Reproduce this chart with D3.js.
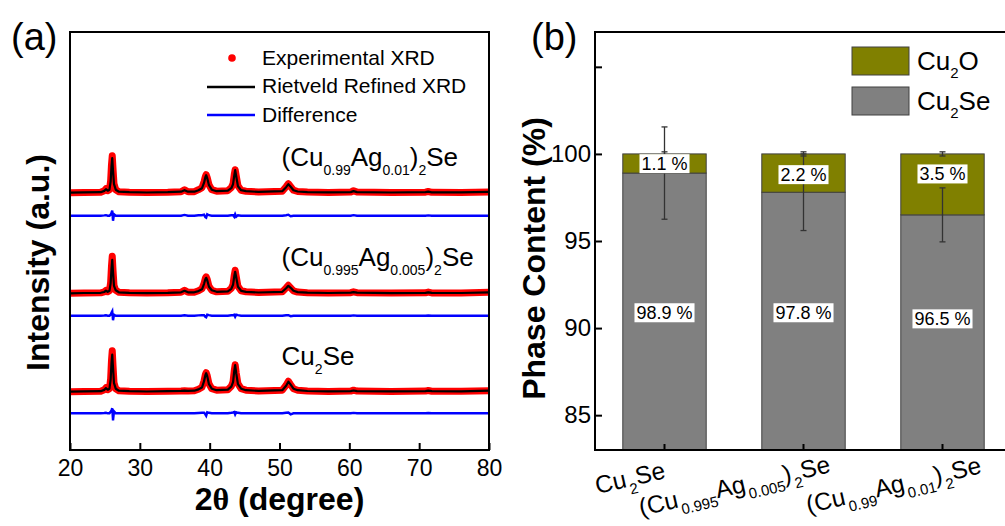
<!DOCTYPE html>
<html>
<head>
<meta charset="utf-8">
<script src="https://cdn.jsdelivr.net/npm/d3@7"></script>
<style>
  html, body { margin: 0; padding: 0; background: #fff; }
  svg { display: block; font-family: Arial, "Liberation Sans", sans-serif; }
</style>
</head>
<body>
<div id="chart"></div>
<script>
// ---------- panel (a): XRD patterns, intensity (a.u.) ----------
const twoTheta = [20, 22, 24.4, 24.9, 25.15, 25.4, 25.65, 25.82, 25.94, 26.05, 26.16, 26.3, 26.55, 27, 28.5, 31, 34,
  35.9, 36.4, 36.9, 37.8, 38.4, 38.9, 39.2, 39.38, 39.5, 39.65, 39.9, 40.3, 41, 42.6, 43.1, 43.35, 43.52, 43.65,
  43.8, 44.05, 44.5, 45.2, 47, 50.4, 50.95, 51.27, 51.6, 52.0, 52.6, 54, 57, 60.2, 60.6, 61.1, 66, 70.9, 71.3,
  71.8, 76, 80];

// sample names, bottom to top
const samples = ['Cu_{2}Se', '(Cu_{0.995}Ag_{0.005})_{2}Se', '(Cu_{0.99}Ag_{0.01})_{2}Se'];

const obsCu2Se = [0, 0.3, 0.5, 2, 4, 2, 3, 13, 31, 41, 26, 9, 3, 1, 0.5, 0.2, 0.5, 0.8, 1, 0.8, 1, 2.5, 4.5, 11, 17,
  19, 16, 8, 3, 1.5, 2, 5.5, 10, 21, 27, 19, 8, 3, 1.5, 0.8, 1.5, 6.5, 10.5, 7, 3, 1.5, 0.7, 0.3, 0.6, 1.5, 0.6,
  0.3, 0.6, 1.2, 0.5, 0.4, 1];
const fitCu2Se = [0, 0.3, 0.5, 1.8, 3.6, 2, 3, 12, 28, 37, 24, 8.5, 3, 1, 0.5, 0.2, 0.5, 0.8, 1, 0.8, 1, 2.3, 4.2,
  10.5, 16.5, 18.5, 15.5, 7.5, 3, 1.5, 2, 5, 9.5, 20.5, 26.5, 18.5, 7.5, 3, 1.5, 0.8, 1.5, 6, 10, 7, 3, 1.5, 0.7,
  0.3, 0.6, 1.2, 0.6, 0.3, 0.6, 1, 0.5, 0.4, 1];
const diffCu2Se = [0, 0, 0, 0.3, 0.5, 0, 0, 1.5, 3, 5, -7, 2, 0, 0, 0, 0, 0, 0, 0, 0, 0, 0.3, 0.5, 0.5, -1, -2.5, 1,
  0.5, 0, 0, 0, 0.5, 0.8, 1.2, -1.2, 1, 0.5, 0, 0, 0, 0, 0.5, 0.8, -1, 0, 0, 0, 0, 0, 0.4, 0, 0, 0, 0.3, 0, 0, 0];

const obsAg005 = [0, 0.3, 0.5, 1.5, 3, 1.5, 2.5, 11, 27, 37, 23, 8, 3, 1, 0.5, 0.2, 0.5, 1, 3, 1, 1, 2.5, 4.5, 10,
  15, 16.5, 14, 7, 3, 1.5, 2, 5, 9, 18, 23, 17, 7, 2.5, 1.5, 0.8, 1.5, 5.5, 8, 5.5, 2.5, 1.2, 0.6, 0.3, 0.6, 1.5,
  0.6, 0.2, 0.5, 1.2, 0.4, 0.3, 1];
const fitAg005 = [0, 0.3, 0.5, 1.3, 2.6, 1.5, 2.5, 10, 24, 33.5, 21, 7.5, 3, 1, 0.5, 0.2, 0.5, 1, 2.5, 1, 1, 2.2, 4,
  9.5, 14, 15.5, 13, 6.5, 3, 1.5, 2, 4.5, 8.5, 17, 21.5, 16, 6.5, 2.5, 1.5, 0.8, 1.5, 5, 7.5, 5.5, 2.5, 1.2, 0.6,
  0.3, 0.6, 1.2, 0.6, 0.2, 0.5, 1, 0.4, 0.3, 1];
const diffAg005 = [0, 0, 0, 0.2, 0.4, 0, 0, 1, 3, 4.5, -4.5, 1, 0, 0, 0, 0, 0, 0, 0.5, 0, 0, 0.3, 0.5, 0.5, -1, -1.5,
  1, 0.5, 0, 0, 0, 0.5, 0.5, 1, -1, 1, 0.5, 0, 0, 0, 0, 0.5, 0.5, -0.5, 0, 0, 0, 0, 0, 0.3, 0, 0, 0, 0.2, 0, 0, 0];

const obsAg01 = [0, 0.3, 0.5, 2, 4, 2, 3, 12, 28, 37, 24, 9, 3, 1, 0.5, 0.2, 0.5, 1, 3, 1, 1, 3, 5, 11, 16, 18, 15,
  8, 3, 1.5, 2, 5, 9, 18, 23, 17, 7, 2.5, 1.5, 0.8, 1.5, 6, 9, 6, 2.5, 1.2, 0.6, 0.3, 0.6, 2, 0.6, 0.2, 0.5, 1.2,
  0.4, 0.3, 0.8];
const fitAg01 = [0, 0.3, 0.5, 1.8, 3.5, 2, 3, 11, 26, 34.5, 22, 8.5, 3, 1, 0.5, 0.2, 0.5, 1, 2.5, 1, 1, 2.5, 4.5, 10,
  15.5, 17.5, 14.5, 7.5, 3, 1.5, 2, 4.5, 8.5, 17, 22.5, 16.5, 6.5, 2.5, 1.5, 0.8, 1.5, 5.5, 8.5, 6, 2.5, 1.2, 0.6,
  0.3, 0.6, 1.6, 0.6, 0.2, 0.5, 1, 0.4, 0.3, 0.8];
const diffAg01 = [0, 0, 0, 0.3, 0.5, 0, 0, 1, 3, 5, -5, 1.5, 0, 0, 0, 0, 0, 0, 0.8, 0, 0, 0.5, 0.5, 1, -1.5, -2, 1.5,
  0.5, 0, 0, 0, 0.5, 0.5, -1, 1.5, -1, 0.5, 0, 0, 0, 0, 0.5, 1, -0.5, 0, 0, 0, 0, 0, 0.6, 0, 0, 0, 0.3, 0, 0, 0];

// vertical stacking offsets (a.u.), bottom to top
const patternOffset = [58.3, 156.7, 257.3];
const diffOffset = [36.7, 134.3, 234.3];

const xTicksA = [20, 30, 40, 50, 60, 70, 80];

// ---------- panel (b): phase content (%) ----------
const phaseSamples = ['Cu_{2}Se', '(Cu_{0.995}Ag_{0.005})_{2}Se', '(Cu_{0.99}Ag_{0.01})_{2}Se'];
const cu2seContent = [98.9, 97.8, 96.5];
const cu2oContent = [1.1, 2.2, 3.5];
const cu2seErr = [2.65, 2.2, 1.55];
const cu2oErr = [0.12, 0.12, 0.12];
const yTicksB = [85, 90, 95, 100, 105];

(function () {
  const W = 1005, H = 526;
  const svg = d3.select('#chart').append('svg')
    .attr('width', W)
    .attr('height', H);

  // split "Cu_{2}Se" into [text, isSub] parts
  function parseFormula(s) {
    return s.split(/(_\{[^}]*\})/).filter(p => p).map(p =>
      p.startsWith('_{') ? [p.slice(2, -1), true] : [p, false]);
  }

  function richText(sel, s, size, subSize, shift, subGap) {
    let cur = 0;
    parseFormula(s).forEach(([t, sub]) => {
      const want = sub ? shift : 0;
      const ts = sel.append('tspan')
        .attr('font-size', sub ? subSize : size)
        .attr('dy', want - cur)
        .text(t);
      if (sub && subGap) ts.attr('dx', subGap);
      cur = want;
    });
    return sel;
  }

  // ================= panel (a) =================
  const xA = d3.scaleLinear().domain([20, 80]).range([70, 489]);
  const yA = d3.scaleLinear().domain([0, 418]).range([450, 32]);

  const obs = [obsCu2Se, obsAg005, obsAg01];
  const fit = [fitCu2Se, fitAg005, fitAg01];
  const diff = [diffCu2Se, diffAg005, diffAg01];

  const line = d3.line()
    .x((d, i) => xA(twoTheta[i]))
    .y(d => yA(d));

  const gA = svg.append('g');

  samples.forEach((name, i) => {
    // difference curve
    gA.append('path')
      .datum(diff[i].map(v => v + diffOffset[i]))
      .attr('d', line)
      .attr('fill', 'none')
      .attr('stroke', '#0000ff')
      .attr('stroke-width', 2.4);

    // experimental points (dense red dots -> thick band)
    gA.append('path')
      .datum(obs[i].map(v => v + patternOffset[i]))
      .attr('d', line)
      .attr('fill', 'none')
      .attr('stroke', '#ff0000')
      .attr('stroke-width', 7)
      .attr('stroke-linejoin', 'round');

    // refined fit
    gA.append('path')
      .datum(fit[i].map(v => v + patternOffset[i]))
      .attr('d', line)
      .attr('fill', 'none')
      .attr('stroke', '#000')
      .attr('stroke-width', 2.2)
      .attr('stroke-linejoin', 'round');

    // sample label
    richText(gA.append('text')
      .attr('x', xA(50.3))
      .attr('y', yA(patternOffset[i]) - 27), name, 26, 14, 9);
  });

  // frame
  gA.append('rect')
    .attr('x', 70).attr('y', 32)
    .attr('width', 419).attr('height', 418)
    .attr('fill', 'none')
    .attr('stroke', '#000')
    .attr('stroke-width', 2);

  const axA = gA.append('g')
    .attr('transform', 'translate(0,450)')
    .call(d3.axisBottom(xA).tickValues(xTicksA).tickSize(-7).tickPadding(10));
  axA.select('.domain').remove();
  axA.selectAll('line').attr('stroke-width', 2);
  axA.selectAll('text')
    .attr('font-size', 23)
    .attr('font-family', 'Arial, "Liberation Sans", sans-serif')
    .attr('fill', '#000');

  // axis titles
  const xt = gA.append('text')
    .attr('x', 279.5).attr('y', 510)
    .attr('text-anchor', 'middle')
    .attr('font-size', 32)
    .attr('font-weight', 700);
  xt.append('tspan').text('2');
  xt.append('tspan').attr('font-family', '"Liberation Serif", serif').text('θ');
  xt.append('tspan').text(' (degree)');

  gA.append('text')
    .attr('transform', 'translate(49,262.5) rotate(-90)')
    .attr('text-anchor', 'middle')
    .attr('font-size', 32)
    .attr('font-weight', 700)
    .text('Intensity (a.u.)');

  gA.append('text')
    .attr('x', 11).attr('y', 50)
    .attr('font-size', 38)
    .text('(a)');

  // legend
  const legA = gA.append('g').attr('font-size', 21);
  legA.append('circle').attr('cx', 232).attr('cy', 58).attr('r', 3.8).attr('fill', '#ff0000');
  legA.append('text').attr('x', 262).attr('y', 64.5).text('Experimental XRD');
  legA.append('line').attr('x1', 207).attr('x2', 255).attr('y1', 87).attr('y2', 87)
    .attr('stroke', '#000').attr('stroke-width', 2.5);
  legA.append('text').attr('x', 262).attr('y', 93).text('Rietveld Refined XRD');
  legA.append('line').attr('x1', 207).attr('x2', 255).attr('y1', 115).attr('y2', 115)
    .attr('stroke', '#0000ff').attr('stroke-width', 2.5);
  legA.append('text').attr('x', 262).attr('y', 122).text('Difference');

  // ================= panel (b) =================
  const xB = d3.scaleBand().domain(phaseSamples).range([595, 1012])
    .paddingInner(0.4).paddingOuter(0.2);
  const yB = d3.scaleLinear().domain([83, 107]).range([450, 32]);
  const bw = xB.bandwidth();
  const cx = d => xB(d) + bw / 2;

  const gB = svg.append('g');

  // Cu2Se bars
  gB.selectAll('rect.cu2se')
    .data(phaseSamples)
    .enter()
    .append('rect')
    .attr('class', 'cu2se')
    .attr('x', d => xB(d))
    .attr('width', bw)
    .attr('y', (d, i) => yB(cu2seContent[i]))
    .attr('height', (d, i) => yB(83) - yB(cu2seContent[i]))
    .attr('fill', '#808080')
    .attr('stroke', '#404040')
    .attr('stroke-width', 1);

  // Cu2O bars stacked on top
  gB.selectAll('rect.cu2o')
    .data(phaseSamples)
    .enter()
    .append('rect')
    .attr('class', 'cu2o')
    .attr('x', d => xB(d))
    .attr('width', bw)
    .attr('y', (d, i) => yB(cu2seContent[i] + cu2oContent[i]))
    .attr('height', (d, i) => yB(cu2seContent[i]) - yB(cu2seContent[i] + cu2oContent[i]))
    .attr('fill', '#808000')
    .attr('stroke', '#404040')
    .attr('stroke-width', 1);

  // error bars
  function errBar(x, lo, hi) {
    const g = gB.append('g').attr('stroke', '#333').attr('stroke-width', 1.3);
    g.append('line').attr('x1', x).attr('x2', x).attr('y1', yB(lo)).attr('y2', yB(hi));
    g.append('line').attr('x1', x - 3).attr('x2', x + 3).attr('y1', yB(lo)).attr('y2', yB(lo));
    g.append('line').attr('x1', x - 3).attr('x2', x + 3).attr('y1', yB(hi)).attr('y2', yB(hi));
  }
  phaseSamples.forEach((d, i) => {
    errBar(cx(d), cu2seContent[i] - cu2seErr[i], cu2seContent[i] + cu2seErr[i]);
    const top = cu2seContent[i] + cu2oContent[i];
    errBar(cx(d), top - cu2oErr[i], top + cu2oErr[i]);
  });

  // value labels in white boxes (vertical spots as placed in the figure)
  const cu2oLabelAt = [99.44, 98.81, 98.85];
  const cu2seLabelAt = [90.88, 90.88, 90.53];
  function valueLabel(x, v, txt) {
    const g = gB.append('g');
    const box = g.append('rect').attr('fill', '#fff');
    const t = g.append('text')
      .attr('x', x).attr('y', yB(v) + 6.5)
      .attr('text-anchor', 'middle')
      .attr('font-size', 18)
      .text(txt);
    const w = t.node().getComputedTextLength() + 4;
    box.attr('x', x - w / 2).attr('y', yB(v) - 9.5).attr('width', w).attr('height', 19);
  }
  phaseSamples.forEach((d, i) => {
    valueLabel(cx(d), cu2oLabelAt[i], cu2oContent[i].toFixed(1) + ' %');
    valueLabel(cx(d), cu2seLabelAt[i], cu2seContent[i].toFixed(1) + ' %');
  });

  // frame (right edge runs off the page)
  gB.append('rect')
    .attr('x', 595).attr('y', 32)
    .attr('width', 425).attr('height', 418)
    .attr('fill', 'none')
    .attr('stroke', '#000')
    .attr('stroke-width', 2);

  const ayB = gB.append('g')
    .attr('transform', 'translate(595,0)')
    .call(d3.axisLeft(yB).tickValues(yTicksB).tickSize(-7).tickPadding(4)
      .tickFormat(d => d === 105 ? '' : d));
  ayB.select('.domain').remove();
  ayB.selectAll('line').attr('stroke-width', 2);
  ayB.selectAll('text')
    .attr('font-size', 24)
    .attr('font-family', 'Arial, "Liberation Sans", sans-serif')
    .attr('fill', '#000');

  // category ticks
  gB.selectAll('line.xtick')
    .data(phaseSamples)
    .enter()
    .append('line')
    .attr('class', 'xtick')
    .attr('x1', cx).attr('x2', cx)
    .attr('y1', 450).attr('y2', 444)
    .attr('stroke', '#000')
    .attr('stroke-width', 2);

  // slanted category labels, anchored at their right end
  const labelEnd = [[2, 478], [28, 472], [40, 473]];
  phaseSamples.forEach((d, i) => {
    richText(gB.append('text')
      .attr('text-anchor', 'end')
      .attr('transform', `translate(${cx(d) + labelEnd[i][0]},${labelEnd[i][1]}) rotate(-13)`),
      d, 24.5, 15, 8, 1.5);
  });

  gB.append('text')
    .attr('transform', 'translate(545,258.5) rotate(-90)')
    .attr('text-anchor', 'middle')
    .attr('font-size', 32)
    .attr('font-weight', 700)
    .text('Phase Content (%)');

  gB.append('text')
    .attr('x', 531).attr('y', 50)
    .attr('font-size', 38)
    .text('(b)');

  // legend
  const legB = [['Cu_{2}O', '#808000'], ['Cu_{2}Se', '#808080']];
  legB.forEach(([name, col], i) => {
    gB.append('rect')
      .attr('x', 852).attr('y', 47 + i * 40)
      .attr('width', 57).attr('height', 28)
      .attr('fill', col)
      .attr('stroke', '#404040')
      .attr('stroke-width', 1);
    richText(gB.append('text').attr('x', 917).attr('y', 70 + i * 39.5), name, 26, 15, 8);
  });
})();
</script>
</body>
</html>
